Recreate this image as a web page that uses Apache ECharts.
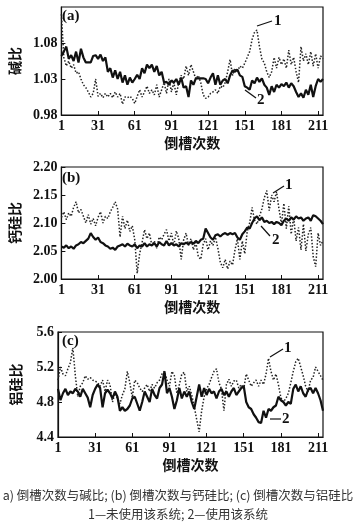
<!DOCTYPE html>
<html><head><meta charset="utf-8">
<script src="https://cdn.jsdelivr.net/npm/echarts@6/dist/echarts.min.js"></script>
<style>html,body{margin:0;padding:0;background:#fff}#c{width:356px;height:522px}</style>
</head><body><div id="c"></div>
<script>
// x positions (倒槽次数), sampled every 2 runs
var runs = [];
for (var r = 1; r <= 215; r += 2) runs.push(r);
var xTickLabels = ['1','31','61','91','121','151','181','211'];

// (a) 碱比 — 1: 未使用该系统 (dotted), 2: 使用该系统 (solid)
var alkali1 = [
1.120,1.060,1.048,1.055,1.045,1.050,1.038,1.040,1.030,1.022,
1.018,1.012,1.005,1.010,1.030,1.006,1.010,1.004,1.010,1.005,
1.010,1.004,1.012,1.005,1.010,0.995,1.005,1.004,1.006,1.003,
0.996,1.006,1.015,1.005,1.012,1.020,1.010,1.015,1.008,1.022,
1.005,1.015,1.025,1.010,1.030,1.012,1.025,1.008,1.025,1.035,
1.030,1.048,1.035,1.050,1.040,1.030,1.035,1.025,1.008,1.003,
1.005,1.010,1.012,1.015,1.010,1.020,1.018,1.025,1.040,1.057,
1.035,1.045,1.040,1.048,1.045,1.052,1.060,1.068,1.085,1.095,
1.098,1.075,1.058,1.052,1.040,1.032,1.040,1.060,1.045,1.060,
1.050,1.058,1.045,1.070,1.050,1.060,1.040,1.025,1.075,1.055,
1.065,1.050,1.068,1.048,1.065,1.045,1.062,1.058];
var alkali2 = [
1.062,1.068,1.075,1.058,1.063,1.055,1.068,1.053,1.072,1.060,
1.053,1.053,1.053,1.062,1.063,1.058,1.064,1.055,1.060,1.040,
1.045,1.032,1.042,1.030,1.040,1.025,1.035,1.022,1.032,1.025,
1.030,1.036,1.030,1.045,1.038,1.050,1.045,1.050,1.040,1.048,
1.035,1.040,1.025,1.026,1.022,1.028,1.025,1.030,1.022,1.032,
1.018,1.020,1.005,1.028,1.022,1.031,1.031,1.031,1.031,1.030,
1.024,1.032,1.038,1.022,1.035,1.022,1.028,1.030,1.024,1.035,
1.042,1.040,1.043,1.035,1.033,1.020,1.018,1.015,1.028,1.024,
1.032,1.026,1.031,1.022,1.018,1.008,1.020,1.012,1.022,1.018,
1.023,1.020,1.025,1.018,1.024,1.020,1.012,1.005,1.010,1.004,
1.015,1.008,1.022,1.005,1.020,1.030,1.026,1.030];

// (b) 钙硅比
var casi1 = [
2.110,2.120,2.106,2.118,2.112,2.128,2.138,2.118,2.124,2.112,
2.100,2.115,2.098,2.108,2.095,2.110,2.120,2.100,2.112,2.108,
2.120,2.128,2.138,2.125,2.075,2.112,2.090,2.105,2.085,2.095,
2.070,2.010,2.045,2.065,2.088,2.072,2.082,2.060,2.068,2.055,
2.075,2.070,2.080,2.088,2.068,2.082,2.060,2.086,2.072,2.035,
2.070,2.082,2.060,2.072,2.052,2.065,2.040,2.035,2.062,2.072,
2.052,2.068,2.060,2.075,2.055,2.030,2.020,2.035,2.018,2.032,
2.025,2.052,2.072,2.035,2.068,2.045,2.085,2.100,2.128,2.105,
2.098,2.112,2.125,2.145,2.158,2.122,2.150,2.138,2.156,2.125,
2.098,2.135,2.090,2.130,2.080,2.110,2.068,2.092,2.052,2.098,
2.050,2.080,2.092,2.040,2.022,2.082,2.060,2.068];
var casi2 = [
2.058,2.056,2.060,2.055,2.058,2.054,2.060,2.062,2.066,2.064,
2.068,2.072,2.082,2.075,2.070,2.074,2.066,2.064,2.060,2.058,
2.054,2.056,2.052,2.058,2.060,2.062,2.058,2.063,2.060,2.058,
2.062,2.055,2.060,2.058,2.064,2.058,2.062,2.060,2.064,2.058,
2.066,2.062,2.060,2.068,2.060,2.064,2.060,2.062,2.058,2.064,
2.062,2.065,2.062,2.066,2.063,2.068,2.064,2.070,2.072,2.090,
2.082,2.074,2.070,2.078,2.080,2.076,2.080,2.082,2.079,2.082,
2.080,2.082,2.074,2.070,2.080,2.085,2.092,2.090,2.100,2.108,
2.112,2.105,2.110,2.102,2.104,2.100,2.102,2.098,2.102,2.100,
2.096,2.104,2.108,2.104,2.110,2.106,2.112,2.108,2.110,2.104,
2.108,2.110,2.104,2.114,2.112,2.108,2.104,2.098];

// (c) 铝硅比
var alsi1 = [
5.05,5.20,5.12,5.10,5.18,5.25,5.42,5.10,4.86,4.98,
5.02,5.10,5.06,5.08,5.05,5.04,5.02,4.98,5.05,4.92,
5.05,5.00,4.80,4.90,4.84,4.78,4.88,4.95,5.15,5.02,
4.85,5.05,5.02,4.96,4.92,4.96,5.00,4.92,5.00,4.96,
5.02,5.05,5.12,5.15,5.05,4.98,5.15,5.10,4.90,5.00,
5.12,5.14,4.92,4.98,4.88,4.75,4.60,4.46,4.70,4.86,
4.95,5.00,5.08,5.15,5.18,5.02,4.95,4.70,5.00,5.06,
4.98,5.04,5.05,4.96,5.00,4.95,5.12,5.05,4.98,5.02,
5.05,4.98,5.05,5.00,5.12,5.30,5.15,5.05,5.12,5.00,
4.85,4.80,4.84,4.90,5.02,5.15,5.26,5.30,5.20,5.10,
4.98,4.92,5.05,5.08,5.20,5.15,5.10,5.05];
var alsi2 = [
4.95,4.82,4.90,4.95,4.88,4.92,4.90,4.95,4.92,4.86,
4.95,4.90,4.85,4.74,4.88,4.95,5.00,4.96,4.74,4.90,
4.94,4.90,4.84,4.92,4.86,4.70,4.74,4.70,4.72,4.76,
4.84,4.86,4.78,4.70,4.80,4.92,4.86,4.80,4.95,4.88,
4.84,4.96,5.00,5.15,4.90,4.96,4.86,4.72,4.82,4.96,
4.84,4.92,4.86,4.92,4.80,4.72,4.86,5.00,4.86,4.96,
4.88,4.95,4.90,4.92,4.84,4.92,4.95,4.88,4.92,4.86,
4.92,4.96,4.88,4.92,4.96,4.98,4.80,4.74,4.72,4.66,
4.62,4.57,4.56,4.70,4.62,4.72,4.70,4.74,4.76,4.86,
4.82,4.80,4.76,4.80,4.78,4.95,5.00,4.92,4.98,4.90,
4.86,4.94,4.96,4.90,4.96,4.90,4.82,4.70];

var panels = [
  {name:'碱比', tag:'(a)', min:0.98, max:1.13, step:0.05, dec:2, s1:alkali1, s2:alkali2, top:7, h:108, showMax:false},
  {name:'钙硅比', tag:'(b)', min:2.00, max:2.20, step:0.05, dec:2, s1:casi1, s2:casi2, top:167, h:112, showMax:true},
  {name:'铝硅比', tag:'(c)', min:4.4, max:5.6, step:0.4, dec:1, s1:alsi1, s2:alsi2, top:332, h:105, showMax:true}
];

var serif = 'Liberation Serif';
var cjk = 'Noto Sans CJK SC';
var grids = [], xAxes = [], yAxes = [], series = [];
panels.forEach(function(p, k){
  grids.push({left:58, right:33, top:p.top, height:p.h, show:true, borderColor:'#111', borderWidth:1.2, backgroundColor:'transparent'});
  xAxes.push({
    type:'category', gridIndex:k, data:runs, boundaryGap:false,
    name:'倒槽次数', nameLocation:'middle', nameGap:21,
    nameTextStyle:{fontFamily:cjk, fontWeight:'bold', fontSize:14, color:'#111'},
    axisLine:{show:true, lineStyle:{color:'#111', width:1.2}},
    axisTick:{show:true, inside:true, length:4, lineStyle:{color:'#111'}, interval:function(i){return i % 15 === 0;}},
    axisLabel:{interval:function(i){return i % 15 === 0;}, margin:4, fontFamily:serif, fontSize:14, fontWeight:'bold', color:'#111',
      formatter:function(v){ return xTickLabels.indexOf(String(v)) >= 0 ? String(v) : ''; }},
    splitLine:{show:false}
  });
  yAxes.push({
    type:'value', gridIndex:k, min:p.min, max:p.max, interval:p.step,
    name:p.name, nameLocation:'middle', nameRotate:90, nameGap:35,
    nameTextStyle:{fontFamily:cjk, fontWeight:'bold', fontSize:14, color:'#111'},
    axisLine:{show:true, lineStyle:{color:'#111', width:1.2}},
    axisTick:{show:true, inside:true, length:4, lineStyle:{color:'#111'}},
    axisLabel:{margin:4, fontFamily:serif, fontSize:14, fontWeight:'bold', color:'#111', showMaxLabel:p.showMax,
      formatter:function(v){ return v.toFixed(p.dec); }},
    splitLine:{show:false}
  });
  series.push({type:'line', xAxisIndex:k, yAxisIndex:k, data:p.s1, symbol:'none', animation:false,
    lineStyle:{color:'#222', width:1.5, type:[1.5,1.8]}});
  series.push({type:'line', xAxisIndex:k, yAxisIndex:k, data:p.s2, symbol:'none', animation:false,
    lineStyle:{color:'#111', width:2.2}});
});

function txt(x, y, s){
  return {type:'text', left:x, top:y, style:{text:s, font:'bold 15px "Liberation Serif"', fill:'#111'}};
}
function seg(x1,y1,x2,y2){
  return {type:'line', shape:{x1:x1,y1:y1,x2:x2,y2:y2}, style:{stroke:'#111', lineWidth:1.2}};
}
var graphic = [
  txt(62, 9, '(a)'), txt(62, 171, '(b)'), txt(62, 334, '(c)'),
  seg(257,26,272,21), txt(274, 14, '1'),
  seg(245,90,256,98), txt(257, 93, '2'),
  seg(273,193,284,186), txt(285, 178, '1'),
  seg(261,226,270,236), txt(272, 233, '2'),
  seg(270,357,283,349), txt(284, 341, '1'),
  seg(270,419,281,419), txt(282, 412, '2'),
  {type:'text', left:'center', top:489, style:{text:'a) 倒槽次数与碱比; (b) 倒槽次数与钙硅比; (c) 倒槽次数与铝硅比', font:'12.5px "Noto Sans CJK SC"', fill:'#333'}},
  {type:'text', left:'center', top:508, style:{text:'1—未使用该系统; 2—使用该系统', font:'12.5px "Noto Sans CJK SC"', fill:'#333'}}
];

var chart = echarts.init(document.getElementById('c'), null, {renderer:'canvas'});
chart.setOption({
  backgroundColor:'#fff', animation:false,
  grid:grids, xAxis:xAxes, yAxis:yAxes, series:series, graphic:graphic
});
</script></body></html>
